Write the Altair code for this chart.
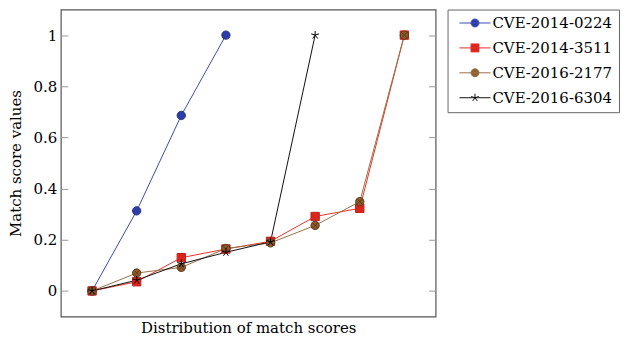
import altair as alt
import pandas as pd

# ---- data ----
series_names = ["CVE-2014-0224", "CVE-2014-3511", "CVE-2016-2177", "CVE-2016-6304"]
cve_2014_0224 = [0.0, 0.313, 0.686, 1.0]
cve_2014_3511 = [0.0, 0.036, 0.130, 0.164, 0.194, 0.291, 0.323, 1.0]
cve_2016_2177 = [0.0, 0.070, 0.092, 0.166, 0.188, 0.256, 0.349, 1.0]
cve_2016_6304 = [0.0, 0.042, 0.106, 0.151, 0.192, 1.0]
y_ticks = [0, 0.2, 0.4, 0.6, 0.8, 1.0]

# ---- styles ----
line_colors = ["#3d4bb0", "#e8322a", "#9b6f45", "#111111"]
fill_colors = ["#2e3ca6", "#d8261e", "#8c5a2b", "#000000"]
edge_colors = ["#26338f", "#c41e17", "#5e3a17", "#000000"]
circle = "M-1,0A1,1,0,1,0,1,0A1,1,0,1,0,-1,0Z"
otimes = circle + "M-0.7,-0.7L0.7,0.7M-0.7,0.7L0.7,-0.7"
star = "M0,0L0,-1M0,0L-0.95,-0.31M0,0L-0.59,0.81M0,0L0.59,0.81M0,0L0.95,-0.31"
square = "M-1,-1L1,-1L1,1L-1,1Z"
marker_paths = [circle, square, otimes, star]
legend_paths = ["M-3.9,0L3.9,0" + p for p in marker_paths]

rows = []
for name, vals in zip(series_names, [cve_2014_0224, cve_2014_3511, cve_2016_2177, cve_2016_6304]):
    for i, v in enumerate(vals):
        rows.append({"series": name, "idx": i, "score": v})
df = pd.DataFrame(rows)

font = "DejaVu Serif"
fs = 15

xenc = alt.X("idx:Q", scale=alt.Scale(domain=[-0.7, 7.7], nice=False, zero=False),
             axis=alt.Axis(title="Distribution of match scores", ticks=False, labels=False,
                           domain=False, grid=False, titleFont=font, titleFontSize=fs,
                           titleFontWeight="normal", titleColor="black", titlePadding=4))
yscale = alt.Scale(domain=[-0.1, 1.1], nice=False, zero=False)

base = alt.Chart(df)

lines = base.mark_line(strokeWidth=1).encode(
    x=xenc,
    y=alt.Y("score:Q", scale=yscale,
            axis=alt.Axis(orient="right", values=y_ticks, labels=False, domain=False, grid=False,
                          title=None, tickSize=7, offset=-7, tickColor="#999999", tickWidth=1)),
    color=alt.Color("series:N", scale=alt.Scale(domain=series_names, range=line_colors), legend=None),
    detail="series:N",
)

points = base.mark_point(filled=True, size=70, strokeWidth=1, opacity=1).encode(
    x=xenc,
    y=alt.Y("score:Q", scale=yscale,
            axis=alt.Axis(orient="left", values=y_ticks, format="~g", domain=False, grid=False,
                          title="Match score values", tickSize=7, offset=-7, tickColor="#999999",
                          tickWidth=1, labelFont=font, labelFontSize=fs, labelColor="black",
                          labelPadding=4, titleFont=font, titleFontSize=fs,
                          titleFontWeight="normal", titleColor="black", titlePadding=10)),
    fill=alt.Fill("series:N", scale=alt.Scale(domain=series_names, range=fill_colors), legend=None),
    shape=alt.Shape("series:N", scale=alt.Scale(domain=series_names, range=marker_paths), legend=None),
    stroke=alt.Stroke("series:N", scale=alt.Scale(domain=series_names, range=edge_colors), legend=None),
)

legend_layer = base.transform_filter("datum.idx < 0").mark_point(
    filled=True, size=64, strokeWidth=1, opacity=1
).encode(
    x=alt.X("idx:Q", scale=alt.Scale(domain=[-0.7, 7.7], nice=False, zero=False)),
    y=alt.Y("score:Q", scale=yscale, axis=None),
    shape=alt.Shape("series:N", scale=alt.Scale(domain=series_names, range=legend_paths),
                    legend=alt.Legend(
                        title=None, orient="right", offset=11, labelFont=font, labelFontSize=fs,
                        labelColor="black", padding=6, strokeColor="#666666",
                        symbolSize=64, symbolOffset=14, labelOffset=10, rowPadding=9,
                        symbolStrokeWidth=1, symbolOpacity=1)),
    fill=alt.Fill("series:N", scale=alt.Scale(domain=series_names, range=fill_colors)),
    stroke=alt.Stroke("series:N", scale=alt.Scale(domain=series_names, range=line_colors)),
)

chart = alt.layer(lines, points, legend_layer).resolve_axis(y="independent").resolve_scale(
    shape="independent", fill="independent", stroke="independent"
).properties(
    width=376, height=308, padding=0
).configure(font=font).configure_view(stroke="#555555", strokeWidth=1.2)

chart.save("out.html", embed_options={"renderer": "svg", "actions": False})
